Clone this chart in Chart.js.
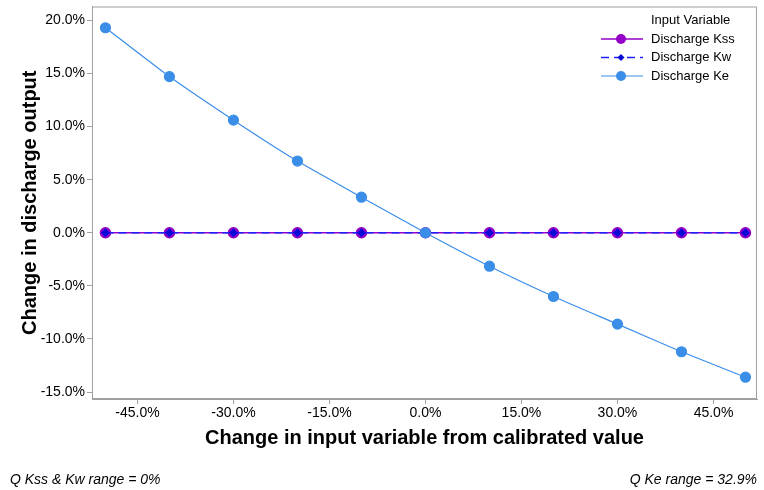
<!DOCTYPE html>
<html>
<head>
<meta charset="utf-8">
<script src="https://cdn.jsdelivr.net/npm/chart.js@4"></script>
<style>
  html, body { margin: 0; padding: 0; background: #fff; }
  #wrap { width: 764px; height: 490px; }
</style>
</head>
<body>
<div id="wrap"><canvas id="chart" width="764" height="490"></canvas></div>
<script>
const xValues = [-50, -40, -30, -20, -10, 0, 10, 20, 30, 40, 50];
const kss = [0, 0, 0, 0, 0, 0, 0, 0, 0, 0, 0];
const kw = [0, 0, 0, 0, 0, 0, 0, 0, 0, 0, 0];
const ke = [19.3, 14.7, 10.6, 6.75, 3.35, 0, -3.15, -6.0, -8.6, -11.2, -13.6];
const xTicks = [-45, -30, -15, 0, 15, 30, 45];
const yTicks = [-15, -10, -5, 0, 5, 10, 15, 20];
const legendTitle = 'Input Variable';
const noteLeft = 'Q Kss & Kw range = 0%';
const noteRight = 'Q Ke range = 32.9%';

const pts = (ys) => xValues.map((x, i) => ({ x, y: ys[i] }));
const FONT = '"Liberation Sans", Arial, sans-serif';
const pct = (v) => v.toFixed(1) + '%';

// frame around plot + custom legend + notes
const extras = {
  id: 'extras',
  afterDatasetsDraw(chart) {
    const { ctx, chartArea: a } = chart;
    ctx.save();
    ctx.strokeStyle = '#a0a0a0';
    ctx.lineWidth = 1;
    ctx.strokeRect(a.left + 0.5, a.top + 0.5, a.right - a.left - 1, a.bottom - a.top - 1);

    // legend, drawn in dataset order
    ctx.font = '13px ' + FONT;
    ctx.fillStyle = '#000';
    ctx.textBaseline = 'middle';
    ctx.fillText(legendTitle, 651, 20);
    chart.data.datasets.forEach((ds, i) => {
      const y = 39 + i * 18.5;
      ctx.strokeStyle = ds.borderColor;
      ctx.lineWidth = ds.borderWidth;
      ctx.setLineDash(ds.borderDash || []);
      ctx.beginPath();
      ctx.moveTo(601, y);
      ctx.lineTo(643, y);
      ctx.stroke();
      ctx.setLineDash([]);
      ctx.fillStyle = ds.pointBackgroundColor;
      ctx.beginPath();
      if (ds.pointStyle === 'rectRot') {
        const r = ds.pointRadius;
        ctx.moveTo(621, y - r); ctx.lineTo(621 + r, y); ctx.lineTo(621, y + r); ctx.lineTo(621 - r, y);
        ctx.closePath();
      } else {
        ctx.arc(621, y, ds.pointRadius, 0, Math.PI * 2);
      }
      ctx.fill();
      ctx.fillStyle = '#000';
      ctx.fillText(ds.label, 651, y);
    });

    // notes
    ctx.font = 'italic 14px ' + FONT;
    ctx.fillStyle = '#000';
    ctx.textAlign = 'left';
    ctx.fillText(noteLeft, 10, 480);
    ctx.textAlign = 'right';
    ctx.fillText(noteRight, 757, 480);
    ctx.restore();
  }
};

new Chart(document.getElementById('chart'), {
  type: 'line',
  data: {
    datasets: [
      {
        label: 'Discharge Kss',
        data: pts(kss),
        borderColor: '#9400c8',
        backgroundColor: '#9400c8',
        pointBackgroundColor: '#9400c8',
        pointBorderColor: '#9400c8',
        borderWidth: 1.5,
        pointRadius: 5,
        pointStyle: 'circle',
        order: 2,
      },
      {
        label: 'Discharge Kw',
        data: pts(kw),
        borderColor: '#2020ff',
        backgroundColor: '#0a0ad8',
        pointBackgroundColor: '#0a0ad8',
        pointBorderColor: '#0a0ad8',
        borderWidth: 1.5,
        borderDash: [8, 5],
        pointRadius: 3.5,
        pointStyle: 'rectRot',
        order: 1,
      },
      {
        label: 'Discharge Ke',
        data: pts(ke),
        borderColor: '#3b8ee8',
        backgroundColor: '#3b8ee8',
        pointBackgroundColor: '#3b8ee8',
        pointBorderColor: '#3b8ee8',
        borderWidth: 1.2,
        pointRadius: 5,
        pointStyle: 'circle',
        tension: 0.2,
        order: 0,
      },
    ],
  },
  options: {
    responsive: false,
    animation: false,
    layout: { padding: { left: 0, top: 5, right: 7, bottom: 39 } },
    plugins: {
      legend: { display: false },
      tooltip: { enabled: false },
    },
    scales: {
      x: {
        type: 'linear',
        min: -52.1,
        max: 51.8,
        afterBuildTicks: (s) => { s.ticks = xTicks.map(v => ({ value: v })); },
        afterFit: (s) => { s.height = 52; s.paddingLeft = 0; s.paddingRight = 0; },
        grid: { drawOnChartArea: false, drawTicks: true, tickLength: 5, color: '#a0a0a0' },
        border: { display: true, color: '#a0a0a0' },
        ticks: { callback: pct, color: '#000', font: { family: FONT, size: 14 }, padding: 1, maxRotation: 0 },
        title: {
          display: true,
          text: 'Change in input variable from calibrated value',
          color: '#000',
          font: { family: FONT, size: 20, weight: 'bold' },
          padding: { top: 0, bottom: 1 },
        },
      },
      y: {
        min: -15.65,
        max: 21.3,
        afterBuildTicks: (s) => { s.ticks = yTicks.map(v => ({ value: v })); },
        afterFit: (s) => { s.width = 92; s.paddingTop = 0; s.paddingBottom = 0; },
        grid: { drawOnChartArea: false, drawTicks: true, tickLength: 5, color: '#a0a0a0' },
        border: { display: true, color: '#a0a0a0' },
        ticks: { callback: pct, color: '#000', font: { family: FONT, size: 14 }, padding: 2 },
        title: {
          display: true,
          text: 'Change in discharge output',
          color: '#000',
          font: { family: FONT, size: 20, weight: 'bold' },
          padding: { top: 18, bottom: 0 },
        },
      },
    },
  },
  plugins: [extras],
});
</script>
</body>
</html>
